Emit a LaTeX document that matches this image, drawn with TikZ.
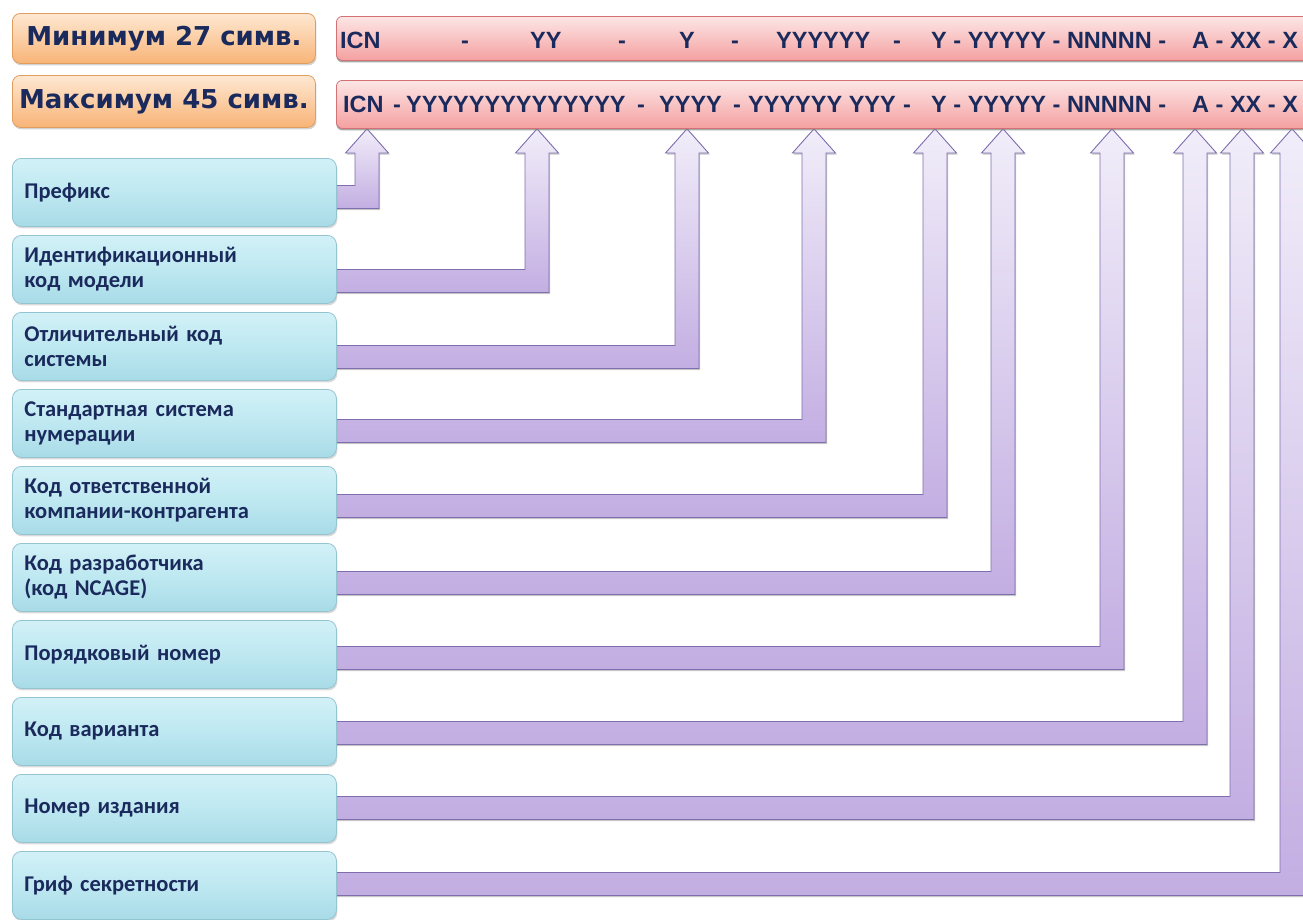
\documentclass[tikz,border=0pt]{standalone}
\usepackage{fontspec}
\setmainfont{Liberation Sans}
\newfontfamily\boxfont{Carlito}
\newfontfamily\labfont{DejaVu Sans}
\usetikzlibrary{calc,shadows}
\definecolor{navy}{HTML}{1B2A5C}
\definecolor{bluetop}{HTML}{D2F1F7}
\definecolor{bluemid}{HTML}{BEE8F1}
\definecolor{bluebot}{HTML}{A8DBE7}
\definecolor{blueedge}{HTML}{93C4D2}
\definecolor{ortop}{HTML}{FEE8D2}
\definecolor{orbot}{HTML}{F8B477}
\definecolor{oredge}{HTML}{DF9D5E}
\definecolor{redtop}{HTML}{FDE6E6}
\definecolor{redbot}{HTML}{F4A0A0}
\definecolor{rededge}{HTML}{D37275}
\definecolor{arrtop}{HTML}{F1EDF9}
\definecolor{arrbot}{HTML}{C3AEE2}
\definecolor{arredge}{HTML}{7E6EAE}
\pgfdeclarelayer{bg}
\pgfsetlayers{bg,main}
\newcommand\icnarrow[3]{%
  \coordinate (#1s) at ([xshift=-6pt]#1.east);
  \shade[arrowbody]
    (#1s |- 0,{#3-11.5}) -- ({#2-12},{#3-11.5}) -- ({#2-12},153) -- ({#2-21.5},153)
    -- (bar2.south -| #2,0) -- ({#2+21.5},153) -- ({#2+12},153)
    -- ({#2+12},{#3+11.5}) -- (#1s |- 0,{#3+11.5}) -- cycle;
}
\begin{document}
\begin{tikzpicture}[x=1pt,y=-1pt,
  bluebox/.style={draw=blueedge, line width=0.8pt, rounded corners=9pt,
    top color=bluetop, bottom color=bluebot, middle color=bluemid,
    minimum width=324pt, minimum height=68pt, text width=300pt, align=left,
    inner sep=0pt, anchor=north west, text=navy,
    font=\boxfont\bfseries\fontsize{22.5}{25}\selectfont,
    drop shadow={shadow xshift=1pt, shadow yshift=-2pt, opacity=0.3}},
  orbox/.style={draw=oredge, line width=0.8pt, rounded corners=8pt,
    top color=ortop, bottom color=orbot, minimum width=303pt,
    inner sep=0pt, anchor=north west, text=navy,
    font=\labfont\bfseries\fontsize{26}{30}\selectfont,
    drop shadow={shadow xshift=1pt, shadow yshift=-2pt, opacity=0.35}},
  redbar/.style={draw=rededge, line width=0.8pt, rounded corners=6pt,
    top color=redtop, bottom color=redbot, minimum width=990pt,
    inner sep=0pt, anchor=north west,
    drop shadow={shadow xshift=0pt, shadow yshift=-2pt, opacity=0.7}},
  code/.style={inner sep=0pt, text=navy, font=\bfseries\fontsize{23.5}{26}\selectfont},
  arrowbody/.style={draw=arredge, line width=0.9pt, top color=arrtop, bottom color=arrbot,
    drop shadow={shadow xshift=1pt, shadow yshift=-1.5pt, opacity=0.45}}
]
\useasboundingbox (0,0) rectangle (1303,919);
\clip (0,0) rectangle (1303,919);

% header boxes
\node[orbox, minimum height=50pt] (min) at (12,13) {Минимум 27 симв.};
\node[orbox, minimum height=52pt] (max) at (12,75) {Максимум 45 симв.};

\node[redbar, minimum height=44pt] (bar1) at (336,16) {};
\node[redbar, minimum height=48pt] (bar2) at (336,80) {};

% bar 1 text
\node[code, anchor=base west] (c1a) at (340,48) {ICN};
\node[code, anchor=base] (c1b) at (465,48) {-};
\node[code, anchor=base west] (c1c) at (530,48) {YY};
\node[code, anchor=base] (c1d) at (622,48) {-};
\node[code, anchor=base] (c1e) at (687,48) {Y};
\node[code, anchor=base] (c1f) at (735,48) {-};
\node[code, anchor=base west] (c1g) at (776,48) {YYYYYY};
\node[code, anchor=base] (c1h) at (897,48) {-};
\node[code, anchor=base west] (c1i) at (931,48) {Y - YYYYY - NNNNN -};
\node[code, anchor=base west] (c1j) at (1192,48) {A - XX - X};

% bar 2 text
\node[code, anchor=base west] (c2a) at (343,112) {ICN};
\node[code, anchor=base] (c2b) at (397,112) {-};
\node[code, anchor=base west] (c2c) at (406,112) {YYYYYYYYYYYYYY};
\node[code, anchor=base] (c2d) at (641,112) {-};
\node[code, anchor=base west] (c2e) at (659,112) {YYYY};
\node[code, anchor=base] (c2f) at (737,112) {-};
\node[code, anchor=base west] (c2g) at (748,112) {YYYYYY YYY};
\node[code, anchor=base] (c2h) at (907,112) {-};
\node[code, anchor=base west] (c2i) at (931,112) {Y - YYYYY - NNNNN -};
\node[code, anchor=base west] (c2j) at (1192,112) {A - XX - X};

% field boxes
\node[bluebox] (b1) at (12,158) {Префикс};
\node[bluebox] (b2) at (12,235) {Идентификационный\\код модели};
\node[bluebox] (b3) at (12,312) {Отличительный код\\системы};
\node[bluebox] (b4) at (12,389) {Стандартная система\\нумерации};
\node[bluebox] (b5) at (12,466) {Код ответственной\\компании-контрагента};
\node[bluebox] (b6) at (12,543) {Код разработчика\\(код NCAGE)};
\node[bluebox] (b7) at (12,620) {Порядковый номер};
\node[bluebox] (b8) at (12,697) {Код варианта};
\node[bluebox] (b9) at (12,774) {Номер издания};
\node[bluebox] (b10) at (12,851) {Гриф секретности};

\begin{pgfonlayer}{bg}
\icnarrow{b1}{367}{197}
\icnarrow{b2}{537}{281}
\icnarrow{b3}{687}{357}
\icnarrow{b4}{814}{431}
\icnarrow{b5}{935}{506}
\icnarrow{b6}{1003}{583}
\icnarrow{b7}{1112}{658}
\icnarrow{b8}{1195}{733}
\icnarrow{b9}{1242}{808}
\icnarrow{b10}{1292}{884}
\end{pgfonlayer}
\end{tikzpicture}
\end{document}
